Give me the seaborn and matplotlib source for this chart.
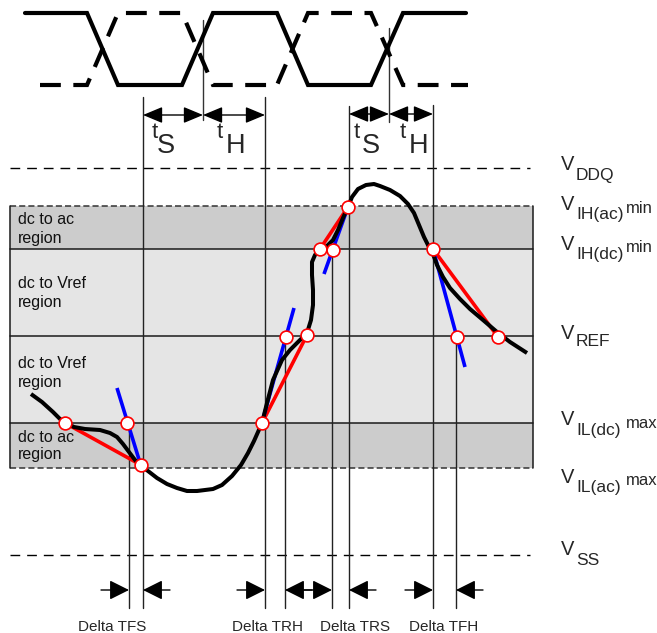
import matplotlib
matplotlib.use("Agg")
import matplotlib.pyplot as plt
import seaborn as sns
import pandas as pd

# --- data (pixel coordinates of the drawing) ---
# clock / data bus at the top
bus_solid_x = [25, 87, 118, 182, 213, 277, 308, 371, 403, 466]
bus_solid_y = [13, 13, 85, 85, 13, 13, 85, 85, 13, 13]
bus_dash_x = [40, 87, 118, 182, 213, 277, 308, 371, 403, 468]
bus_dash_y = [85, 85, 13, 13, 85, 85, 13, 13, 85, 85]

# voltage levels (y) and their labels
level_names = ["VDDQ", "VIH(ac)", "VIH(dc)", "VREF", "VIL(dc)", "VIL(ac)", "VSS"]
level_y = [168, 206, 249, 336, 423, 468, 555]
v_subs = ["DDQ", "IH(ac)", "IH(dc)", "REF", "IL(dc)", "IL(ac)", "SS"]
v_sups = ["", "min", "min", "", "max", "max", ""]
v_base = [170, 210, 250, 339, 425, 483, 555]
sub_base = [180, 219, 259, 346, 435, 492, 565]
sup_base = [0, 213, 252, 0, 428, 485, 0]

region_lines = [("dc to ac", 224), ("region", 243),
                ("dc to Vref", 288), ("region", 307),
                ("dc to Vref", 368), ("region", 387),
                ("dc to ac", 442), ("region", 459)]

# input signal
sig_x = [31, 42, 53, 60, 66, 74, 85, 100, 110, 117, 123, 129, 135, 141, 148,
         157, 167, 177, 187, 197, 205, 213, 222, 232, 241, 248, 254, 258, 262,
         267, 273, 282, 290, 300, 307, 311, 313, 313, 312, 312, 315, 320, 327,
         333, 338, 343, 348, 352, 358, 366, 374, 380, 390, 400, 408, 414, 419,
         424, 429, 433, 437, 443, 450, 460, 470, 483, 497, 510, 527]
sig_y = [394, 402, 412, 419, 423, 427, 429, 430, 433, 437, 444, 452, 460, 466, 471,
         478, 484, 488, 491, 491, 490, 489, 485, 476, 465, 453, 441, 432, 423,
         403, 380, 360, 350, 340, 333, 320, 305, 290, 275, 262, 255, 249, 246,
         240, 230, 218, 207, 197, 189, 185, 184, 186, 190, 196, 204, 213, 225,
         237, 247, 254, 265, 277, 288, 299, 309, 320, 332, 342, 353]

# nominal slew (red) and tangent (blue) lines
red_x = [[65, 141], [262, 307], [320, 348], [433, 498]]
red_y = [[423, 465], [423, 335], [249, 207], [249, 337]]
blue_x = [[117, 141], [261, 294], [324, 348], [433, 465]]
blue_y = [[388, 466], [426, 308], [274, 207], [249, 367]]

circ_x = [65, 127, 141, 262, 286, 307, 320, 333, 348, 433, 457, 498]
circ_y = [423, 423, 465, 423, 337, 335, 249, 250, 207, 249, 337, 337]

# timing reference lines
vline_x = [129, 143, 265, 285, 332, 349, 433, 456]
vline_top = [423, 97, 97, 337, 250, 106, 105, 337]
center_x = [203, 389]
center_top = [20, 28]
center_bot = [120, 122]

delta_names = ["Delta TFS", "Delta TRH", "Delta TRS", "Delta TFH"]
delta_left = [129, 265, 332, 433]
delta_right = [143, 285, 349, 456]
delta_text_x = [112, 268, 355, 444]

W, H = 657, 633
sns.set_style("white")
plt.rcParams["font.family"] = ["Liberation Sans", "DejaVu Sans"]

fig = plt.figure(figsize=(W / 100, H / 100), dpi=100)
ax = fig.add_axes([0, 0, 1, 1])
ax.set_xlim(0, W)
ax.set_ylim(H, 0)
ax.axis("off")

band_l, band_r = 10, 533
dark, light = "#cccccc", "#e5e5e5"
ax.fill_between([band_l, band_r], level_y[1], level_y[2], color=dark, lw=0, zorder=0)
ax.fill_between([band_l, band_r], level_y[2], level_y[4], color=light, lw=0, zorder=0)
ax.fill_between([band_l, band_r], level_y[4], level_y[5], color=dark, lw=0, zorder=0)
for y in level_y[2:5]:
    ax.plot([band_l, band_r], [y, y], color="#1a1a1a", lw=1.1, zorder=1)
for y in (level_y[1], level_y[5]):
    ax.plot([band_l, band_r], [y, y], color="#333333", lw=1.1, ls=(0, (4, 2)), zorder=1)
for x in (band_l, band_r):
    ax.plot([x, x], [level_y[1], level_y[5]], color="#1a1a1a", lw=1.1, zorder=1)

for y in (level_y[0], level_y[6]):
    ax.plot([band_l, 530], [y, y], color="black", lw=1.0, ls=(0, (7, 5)), zorder=1)

for x, top in zip(vline_x, vline_top):
    ax.plot([x, x], [top, 608], color="#222222", lw=1.0, zorder=1)
for x, t, b in zip(center_x, center_top, center_bot):
    ax.plot([x, x], [t, b], color="#333333", lw=1.0, zorder=1)

# red / blue slew lines
for xs, ys in zip(red_x, red_y):
    sns.lineplot(x=xs, y=ys, color="#ff0000", lw=2.6, sort=False, estimator=None,
                 ax=ax, zorder=2, solid_capstyle="butt")
for xs, ys in zip(blue_x, blue_y):
    sns.lineplot(x=xs, y=ys, color="#0000ff", lw=2.6, sort=False, estimator=None,
                 ax=ax, zorder=2, solid_capstyle="butt")

sig = pd.DataFrame({"x": sig_x, "y": sig_y})
sns.lineplot(data=sig, x="x", y="y", color="black", lw=2.9, sort=False,
             estimator=None, ax=ax, zorder=3, solid_joinstyle="round",
             solid_capstyle="butt")

sns.scatterplot(x=circ_x, y=circ_y, s=85, facecolor="white", edgecolor="#ff0000",
                linewidth=1.2, ax=ax, zorder=4)

# bus waveform
sns.lineplot(x=bus_solid_x, y=bus_solid_y, color="black", lw=3, sort=False,
             estimator=None, ax=ax, zorder=3, solid_joinstyle="miter")
ax.plot(bus_dash_x, bus_dash_y, color="black", lw=3, ls=(0, (5, 3)), zorder=3,
        dash_joinstyle="miter", dash_capstyle="butt")

arrow_kw = dict(color="black", lw=1.0, shrinkA=0, shrinkB=0, mutation_scale=20)
# setup / hold arrows
for (l, c, r, y) in [(143, 203, 265, 115), (349, 389, 433, 114)]:
    for a, b in [(l, c), (c, r)]:
        ax.annotate("", xy=(b, y), xytext=(a, y),
                    arrowprops=dict(arrowstyle="<|-|>,head_length=0.6,head_width=0.25", **arrow_kw))

ts_labels = [("t", "S", 152, 157), ("t", "H", 217, 226),
             ("t", "S", 354, 362), ("t", "H", 400, 409)]
for t, s, xt, xs in ts_labels:
    ax.text(xt, 138, t, fontsize=16, va="baseline", ha="left")
    ax.text(xs, 153, s, fontsize=19.5, va="baseline", ha="left")

# delta arrows
for l, r in zip(delta_left, delta_right):
    ax.annotate("", xy=(l, 590), xytext=(l - 28, 590),
                arrowprops=dict(arrowstyle="-|>,head_length=0.6,head_width=0.3", **arrow_kw))
    ax.annotate("", xy=(r, 590), xytext=(r + 27, 590),
                arrowprops=dict(arrowstyle="-|>,head_length=0.6,head_width=0.3", **arrow_kw))
for name, x in zip(delta_names, delta_text_x):
    ax.text(x, 631, name, fontsize=11, ha="center", va="baseline")

for txt, y in region_lines:
    ax.text(18, y, txt, fontsize=11.5, va="baseline", ha="left", color="#111111")

for sub, sup, yv, ys, yp in zip(v_subs, v_sups, v_base, sub_base, sup_base):
    ax.text(561, yv, "V", fontsize=14.5, va="baseline", ha="left")
    ax.text(576, ys, sub, fontsize=12.5, va="baseline", ha="left")
    if sup:
        ax.text(626, yp, sup, fontsize=12, va="baseline", ha="left")

fig.savefig("out.png", dpi=100)
